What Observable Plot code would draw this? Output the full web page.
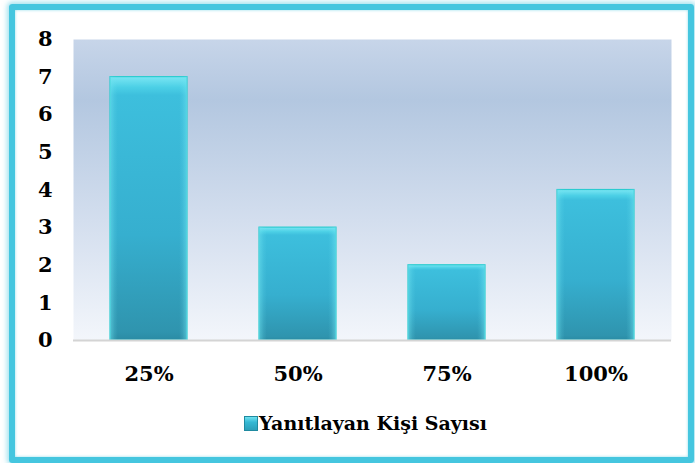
<!DOCTYPE html>
<html><head><meta charset="utf-8">
<script src="https://cdn.jsdelivr.net/npm/d3@7"></script>
<script src="https://cdn.jsdelivr.net/npm/@observablehq/plot@0.6"></script>
<style>
html,body{margin:0;padding:0;background:#fff;}
#wrap{position:relative;width:695px;height:463px;overflow:hidden;background:#fff;}
#frame{position:absolute;left:9px;top:4px;width:673px;height:447px;border:6px solid #45c6df;border-radius:3px;box-shadow:0 0 5px 2px rgba(69,198,223,0.5), inset 0 0 3px rgba(69,198,223,0.6);}
#chart{position:absolute;left:0;top:0;}
#legend{position:absolute;left:18px;width:695px;top:412px;text-align:center;font-family:"DejaVu Serif",serif;font-weight:bold;font-size:19px;color:#000;white-space:nowrap;}
#legend .sw{display:inline-block;width:12px;height:13px;background:linear-gradient(#6fe2f0,#35b8d4 40%,#2b9fb9);border:1px solid #1f8aa0;vertical-align:-1px;margin-right:1px;}
</style></head>
<body><div id="wrap"><div id="frame"></div><div id="chart"></div><div id="legend"><span class="sw"></span>Yanıtlayan Kişi Sayısı</div></div>
<script>
const categories = ["25%", "50%", "75%", "100%"];
const values = [7, 3, 2, 4];
const yTicks = [0, 1, 2, 3, 4, 5, 6, 7, 8];
const seriesName = "Yanıtlayan Kişi Sayısı";

const data = categories.map((c, i) => ({category: c, value: values[i]}));

const plot = Plot.plot({
  width: 695,
  height: 463,
  marginLeft: 73,
  marginRight: 24,
  marginTop: 39,
  marginBottom: 123,
  style: {fontFamily: "DejaVu Serif, serif", fontWeight: "bold", fontSize: "21px", color: "#000", background: "transparent", overflow: "visible"},
  x: {domain: categories, paddingInner: 0.48, paddingOuter: 0.245, label: null, tickSize: 0, tickPadding: 26},
  y: {domain: [0, 8], ticks: yTicks, label: null, tickSize: 0, tickPadding: 21},
  marks: [
    Plot.frame({fill: "url(#bgGrad)", stroke: null}),
    Plot.barY(data, {x: "category", y: "value", fill: "url(#barGrad)", stroke: "#2ccbd0", strokeWidth: 1.2}),
    Plot.barY(data, {x: "category", y: "value", fill: "url(#sideGrad)", stroke: null}),
    Plot.ruleY([0], {stroke: "#d4d4d4", strokeWidth: 2})
  ]
});

const ns = "http://www.w3.org/2000/svg";
const defs = document.createElementNS(ns, "defs");
defs.innerHTML = `
<linearGradient id="bgGrad" x1="0" y1="0" x2="0" y2="1">
  <stop offset="0" stop-color="#c7d5e9"/>
  <stop offset="0.2" stop-color="#b3c7e0"/>
  <stop offset="0.6" stop-color="#d3deee"/>
  <stop offset="1" stop-color="#f3f6fb"/>
</linearGradient>
<linearGradient id="barGrad" x1="0" y1="0" x2="0" y2="1">
  <stop offset="0" stop-color="#7be6f3"/>
  <stop offset="0.04" stop-color="#4cd0e6"/>
  <stop offset="0.07" stop-color="#3dbfdd"/>
  <stop offset="0.6" stop-color="#36afcf"/>
  <stop offset="0.97" stop-color="#2f94ae"/>
  <stop offset="1" stop-color="#2a8ba4"/>
</linearGradient>
<linearGradient id="sideGrad" x1="0" y1="0" x2="1" y2="0">
  <stop offset="0" stop-color="#6fe3ef" stop-opacity="0.55"/>
  <stop offset="0.06" stop-color="#6fe3ef" stop-opacity="0.15"/>
  <stop offset="0.1" stop-color="#6fe3ef" stop-opacity="0"/>
  <stop offset="0.9" stop-color="#6fe3ef" stop-opacity="0"/>
  <stop offset="0.94" stop-color="#6fe3ef" stop-opacity="0.15"/>
  <stop offset="1" stop-color="#6fe3ef" stop-opacity="0.55"/>
</linearGradient>`;
plot.insertBefore(defs, plot.firstChild);
document.getElementById("chart").appendChild(plot);
</script>
</body></html>
